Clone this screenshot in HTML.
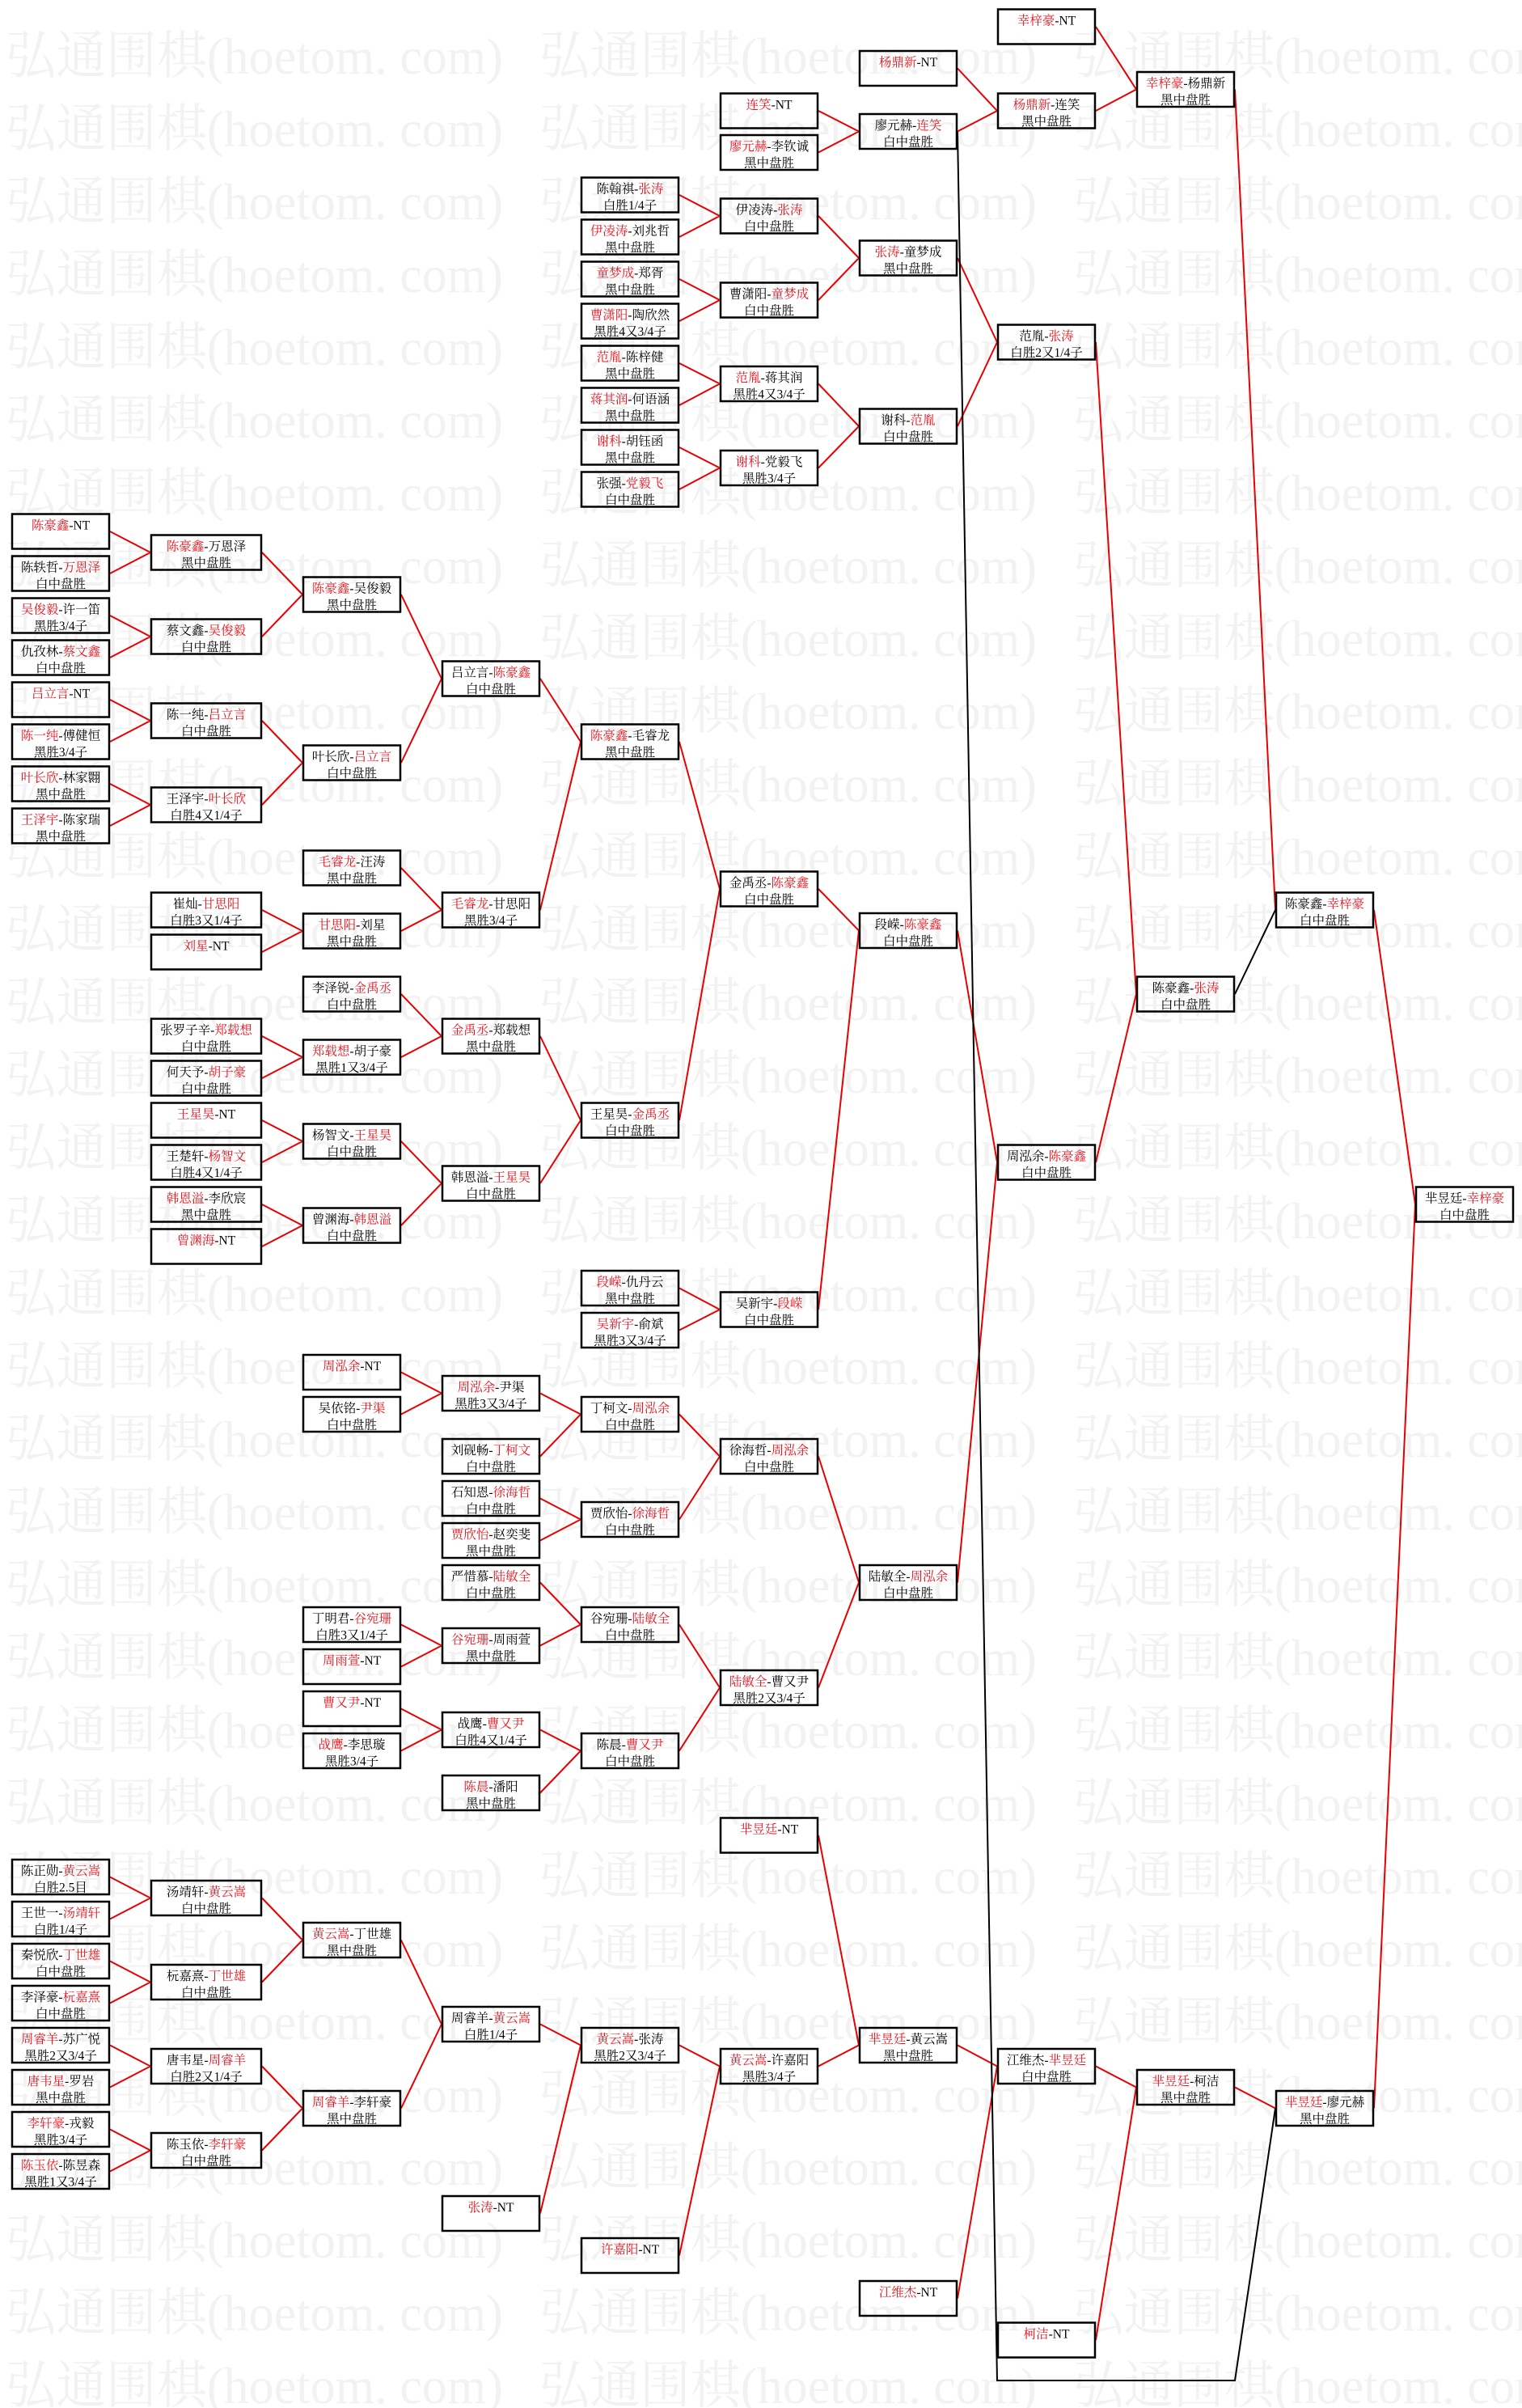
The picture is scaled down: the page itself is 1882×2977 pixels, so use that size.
<!DOCTYPE html>
<html><head><meta charset="utf-8"><style>
html,body{margin:0;padding:0;background:#fff;width:1882px;height:2977px;overflow:hidden}
svg{display:block}
svg text{font-family:"Liberation Serif","Noto Serif CJK SC",serif;font-size:15.5px;text-anchor:middle;fill:#000}
.wm text{font-size:64px;fill:#f2f2f2;text-anchor:start}
.bx rect{fill:none;stroke:#000;stroke-width:2.5}
.r{fill:#e8121c}
.ln{fill:none;stroke:#e80000;stroke-width:2}
.lk{fill:none;stroke:#000;stroke-width:2}
</style></head><body>
<svg width="1882" height="2977" viewBox="0 0 1882 2977" xmlns="http://www.w3.org/2000/svg">
<g class="wm">
<text x="7" y="91" textLength="615" lengthAdjust="spacingAndGlyphs">弘通围棋(hoetom. com)</text><text x="667" y="91" textLength="615" lengthAdjust="spacingAndGlyphs">弘通围棋(hoetom. com)</text><text x="1327" y="91" textLength="615" lengthAdjust="spacingAndGlyphs">弘通围棋(hoetom. com)</text>
<text x="7" y="181" textLength="615" lengthAdjust="spacingAndGlyphs">弘通围棋(hoetom. com)</text><text x="667" y="181" textLength="615" lengthAdjust="spacingAndGlyphs">弘通围棋(hoetom. com)</text><text x="1327" y="181" textLength="615" lengthAdjust="spacingAndGlyphs">弘通围棋(hoetom. com)</text>
<text x="7" y="271" textLength="615" lengthAdjust="spacingAndGlyphs">弘通围棋(hoetom. com)</text><text x="667" y="271" textLength="615" lengthAdjust="spacingAndGlyphs">弘通围棋(hoetom. com)</text><text x="1327" y="271" textLength="615" lengthAdjust="spacingAndGlyphs">弘通围棋(hoetom. com)</text>
<text x="7" y="361" textLength="615" lengthAdjust="spacingAndGlyphs">弘通围棋(hoetom. com)</text><text x="667" y="361" textLength="615" lengthAdjust="spacingAndGlyphs">弘通围棋(hoetom. com)</text><text x="1327" y="361" textLength="615" lengthAdjust="spacingAndGlyphs">弘通围棋(hoetom. com)</text>
<text x="7" y="451" textLength="615" lengthAdjust="spacingAndGlyphs">弘通围棋(hoetom. com)</text><text x="667" y="451" textLength="615" lengthAdjust="spacingAndGlyphs">弘通围棋(hoetom. com)</text><text x="1327" y="451" textLength="615" lengthAdjust="spacingAndGlyphs">弘通围棋(hoetom. com)</text>
<text x="7" y="541" textLength="615" lengthAdjust="spacingAndGlyphs">弘通围棋(hoetom. com)</text><text x="667" y="541" textLength="615" lengthAdjust="spacingAndGlyphs">弘通围棋(hoetom. com)</text><text x="1327" y="541" textLength="615" lengthAdjust="spacingAndGlyphs">弘通围棋(hoetom. com)</text>
<text x="7" y="631" textLength="615" lengthAdjust="spacingAndGlyphs">弘通围棋(hoetom. com)</text><text x="667" y="631" textLength="615" lengthAdjust="spacingAndGlyphs">弘通围棋(hoetom. com)</text><text x="1327" y="631" textLength="615" lengthAdjust="spacingAndGlyphs">弘通围棋(hoetom. com)</text>
<text x="7" y="721" textLength="615" lengthAdjust="spacingAndGlyphs">弘通围棋(hoetom. com)</text><text x="667" y="721" textLength="615" lengthAdjust="spacingAndGlyphs">弘通围棋(hoetom. com)</text><text x="1327" y="721" textLength="615" lengthAdjust="spacingAndGlyphs">弘通围棋(hoetom. com)</text>
<text x="7" y="811" textLength="615" lengthAdjust="spacingAndGlyphs">弘通围棋(hoetom. com)</text><text x="667" y="811" textLength="615" lengthAdjust="spacingAndGlyphs">弘通围棋(hoetom. com)</text><text x="1327" y="811" textLength="615" lengthAdjust="spacingAndGlyphs">弘通围棋(hoetom. com)</text>
<text x="7" y="901" textLength="615" lengthAdjust="spacingAndGlyphs">弘通围棋(hoetom. com)</text><text x="667" y="901" textLength="615" lengthAdjust="spacingAndGlyphs">弘通围棋(hoetom. com)</text><text x="1327" y="901" textLength="615" lengthAdjust="spacingAndGlyphs">弘通围棋(hoetom. com)</text>
<text x="7" y="991" textLength="615" lengthAdjust="spacingAndGlyphs">弘通围棋(hoetom. com)</text><text x="667" y="991" textLength="615" lengthAdjust="spacingAndGlyphs">弘通围棋(hoetom. com)</text><text x="1327" y="991" textLength="615" lengthAdjust="spacingAndGlyphs">弘通围棋(hoetom. com)</text>
<text x="7" y="1081" textLength="615" lengthAdjust="spacingAndGlyphs">弘通围棋(hoetom. com)</text><text x="667" y="1081" textLength="615" lengthAdjust="spacingAndGlyphs">弘通围棋(hoetom. com)</text><text x="1327" y="1081" textLength="615" lengthAdjust="spacingAndGlyphs">弘通围棋(hoetom. com)</text>
<text x="7" y="1171" textLength="615" lengthAdjust="spacingAndGlyphs">弘通围棋(hoetom. com)</text><text x="667" y="1171" textLength="615" lengthAdjust="spacingAndGlyphs">弘通围棋(hoetom. com)</text><text x="1327" y="1171" textLength="615" lengthAdjust="spacingAndGlyphs">弘通围棋(hoetom. com)</text>
<text x="7" y="1261" textLength="615" lengthAdjust="spacingAndGlyphs">弘通围棋(hoetom. com)</text><text x="667" y="1261" textLength="615" lengthAdjust="spacingAndGlyphs">弘通围棋(hoetom. com)</text><text x="1327" y="1261" textLength="615" lengthAdjust="spacingAndGlyphs">弘通围棋(hoetom. com)</text>
<text x="7" y="1351" textLength="615" lengthAdjust="spacingAndGlyphs">弘通围棋(hoetom. com)</text><text x="667" y="1351" textLength="615" lengthAdjust="spacingAndGlyphs">弘通围棋(hoetom. com)</text><text x="1327" y="1351" textLength="615" lengthAdjust="spacingAndGlyphs">弘通围棋(hoetom. com)</text>
<text x="7" y="1441" textLength="615" lengthAdjust="spacingAndGlyphs">弘通围棋(hoetom. com)</text><text x="667" y="1441" textLength="615" lengthAdjust="spacingAndGlyphs">弘通围棋(hoetom. com)</text><text x="1327" y="1441" textLength="615" lengthAdjust="spacingAndGlyphs">弘通围棋(hoetom. com)</text>
<text x="7" y="1531" textLength="615" lengthAdjust="spacingAndGlyphs">弘通围棋(hoetom. com)</text><text x="667" y="1531" textLength="615" lengthAdjust="spacingAndGlyphs">弘通围棋(hoetom. com)</text><text x="1327" y="1531" textLength="615" lengthAdjust="spacingAndGlyphs">弘通围棋(hoetom. com)</text>
<text x="7" y="1621" textLength="615" lengthAdjust="spacingAndGlyphs">弘通围棋(hoetom. com)</text><text x="667" y="1621" textLength="615" lengthAdjust="spacingAndGlyphs">弘通围棋(hoetom. com)</text><text x="1327" y="1621" textLength="615" lengthAdjust="spacingAndGlyphs">弘通围棋(hoetom. com)</text>
<text x="7" y="1711" textLength="615" lengthAdjust="spacingAndGlyphs">弘通围棋(hoetom. com)</text><text x="667" y="1711" textLength="615" lengthAdjust="spacingAndGlyphs">弘通围棋(hoetom. com)</text><text x="1327" y="1711" textLength="615" lengthAdjust="spacingAndGlyphs">弘通围棋(hoetom. com)</text>
<text x="7" y="1801" textLength="615" lengthAdjust="spacingAndGlyphs">弘通围棋(hoetom. com)</text><text x="667" y="1801" textLength="615" lengthAdjust="spacingAndGlyphs">弘通围棋(hoetom. com)</text><text x="1327" y="1801" textLength="615" lengthAdjust="spacingAndGlyphs">弘通围棋(hoetom. com)</text>
<text x="7" y="1891" textLength="615" lengthAdjust="spacingAndGlyphs">弘通围棋(hoetom. com)</text><text x="667" y="1891" textLength="615" lengthAdjust="spacingAndGlyphs">弘通围棋(hoetom. com)</text><text x="1327" y="1891" textLength="615" lengthAdjust="spacingAndGlyphs">弘通围棋(hoetom. com)</text>
<text x="7" y="1981" textLength="615" lengthAdjust="spacingAndGlyphs">弘通围棋(hoetom. com)</text><text x="667" y="1981" textLength="615" lengthAdjust="spacingAndGlyphs">弘通围棋(hoetom. com)</text><text x="1327" y="1981" textLength="615" lengthAdjust="spacingAndGlyphs">弘通围棋(hoetom. com)</text>
<text x="7" y="2071" textLength="615" lengthAdjust="spacingAndGlyphs">弘通围棋(hoetom. com)</text><text x="667" y="2071" textLength="615" lengthAdjust="spacingAndGlyphs">弘通围棋(hoetom. com)</text><text x="1327" y="2071" textLength="615" lengthAdjust="spacingAndGlyphs">弘通围棋(hoetom. com)</text>
<text x="7" y="2161" textLength="615" lengthAdjust="spacingAndGlyphs">弘通围棋(hoetom. com)</text><text x="667" y="2161" textLength="615" lengthAdjust="spacingAndGlyphs">弘通围棋(hoetom. com)</text><text x="1327" y="2161" textLength="615" lengthAdjust="spacingAndGlyphs">弘通围棋(hoetom. com)</text>
<text x="7" y="2251" textLength="615" lengthAdjust="spacingAndGlyphs">弘通围棋(hoetom. com)</text><text x="667" y="2251" textLength="615" lengthAdjust="spacingAndGlyphs">弘通围棋(hoetom. com)</text><text x="1327" y="2251" textLength="615" lengthAdjust="spacingAndGlyphs">弘通围棋(hoetom. com)</text>
<text x="7" y="2341" textLength="615" lengthAdjust="spacingAndGlyphs">弘通围棋(hoetom. com)</text><text x="667" y="2341" textLength="615" lengthAdjust="spacingAndGlyphs">弘通围棋(hoetom. com)</text><text x="1327" y="2341" textLength="615" lengthAdjust="spacingAndGlyphs">弘通围棋(hoetom. com)</text>
<text x="7" y="2431" textLength="615" lengthAdjust="spacingAndGlyphs">弘通围棋(hoetom. com)</text><text x="667" y="2431" textLength="615" lengthAdjust="spacingAndGlyphs">弘通围棋(hoetom. com)</text><text x="1327" y="2431" textLength="615" lengthAdjust="spacingAndGlyphs">弘通围棋(hoetom. com)</text>
<text x="7" y="2521" textLength="615" lengthAdjust="spacingAndGlyphs">弘通围棋(hoetom. com)</text><text x="667" y="2521" textLength="615" lengthAdjust="spacingAndGlyphs">弘通围棋(hoetom. com)</text><text x="1327" y="2521" textLength="615" lengthAdjust="spacingAndGlyphs">弘通围棋(hoetom. com)</text>
<text x="7" y="2611" textLength="615" lengthAdjust="spacingAndGlyphs">弘通围棋(hoetom. com)</text><text x="667" y="2611" textLength="615" lengthAdjust="spacingAndGlyphs">弘通围棋(hoetom. com)</text><text x="1327" y="2611" textLength="615" lengthAdjust="spacingAndGlyphs">弘通围棋(hoetom. com)</text>
<text x="7" y="2701" textLength="615" lengthAdjust="spacingAndGlyphs">弘通围棋(hoetom. com)</text><text x="667" y="2701" textLength="615" lengthAdjust="spacingAndGlyphs">弘通围棋(hoetom. com)</text><text x="1327" y="2701" textLength="615" lengthAdjust="spacingAndGlyphs">弘通围棋(hoetom. com)</text>
<text x="7" y="2791" textLength="615" lengthAdjust="spacingAndGlyphs">弘通围棋(hoetom. com)</text><text x="667" y="2791" textLength="615" lengthAdjust="spacingAndGlyphs">弘通围棋(hoetom. com)</text><text x="1327" y="2791" textLength="615" lengthAdjust="spacingAndGlyphs">弘通围棋(hoetom. com)</text>
<text x="7" y="2881" textLength="615" lengthAdjust="spacingAndGlyphs">弘通围棋(hoetom. com)</text><text x="667" y="2881" textLength="615" lengthAdjust="spacingAndGlyphs">弘通围棋(hoetom. com)</text><text x="1327" y="2881" textLength="615" lengthAdjust="spacingAndGlyphs">弘通围棋(hoetom. com)</text>
<text x="7" y="2971" textLength="615" lengthAdjust="spacingAndGlyphs">弘通围棋(hoetom. com)</text><text x="667" y="2971" textLength="615" lengthAdjust="spacingAndGlyphs">弘通围棋(hoetom. com)</text><text x="1327" y="2971" textLength="615" lengthAdjust="spacingAndGlyphs">弘通围棋(hoetom. com)</text>
</g>

<path class="ln" d="M1355 33L1405 110.5M1355 137L1405 110.5M1184 84.5L1233 137M1184 162.5L1233 137M1012 137L1062 162.5M1012 188.5L1062 162.5
M840 241L890 267M840 293L890 267M840 345L890 371M840 397L890 371M840 449L890 474.5M840 501L890 474.5M840 553L890 578.5M840 605L890 578.5
M1012 267L1062 319M1012 371L1062 319M1012 474.5L1062 527M1012 578.5L1062 527M1184 319L1233 423M1184 527L1233 423M1355 423L1405 1229
M1527 110.5L1577 1125M1699 1125L1750 1489M1699 2606.5L1750 1489
M136 657L186 683M136 709L186 683M136 761L186 787M136 813L186 787M136 865L186 891M136 917L186 891M136 969L186 995M136 1021L186 995
M324 683L374 735M324 787L374 735M324 891L374 943M324 995L374 943M496 735L546 839M496 943L546 839M668 839L718 917M668 1125L718 917
M496 1073L546 1125M496 1151L546 1125M324 1125L374 1151M324 1177L374 1151
M496 1229L546 1281M496 1307L546 1281M324 1281L374 1307M324 1333L374 1307
M324 1385L374 1411M324 1437L374 1411M324 1489L374 1515M324 1541L374 1515M496 1411L546 1463M496 1515L546 1463M668 1281L718 1385M668 1463L718 1385
M840 917L890 1099M840 1385L890 1099M1012 1099L1062 1150.5M1012 1619L1062 1150.5M840 1592.5L890 1619M840 1644.5L890 1619
M1184 1150.5L1233 1437M1184 1956.5L1233 1437M1355 1437L1405 1229
M496 1696.5L546 1722.5M496 1748.5L546 1722.5M668 1722.5L718 1748.5M668 1800.5L718 1748.5M668 1852.5L718 1878.5M668 1904.5L718 1878.5M840 1748.5L890 1800.5M840 1878.5L890 1800.5
M496 2008.5L546 2034.5M496 2060.5L546 2034.5M668 1956.5L718 2008.5M668 2034.5L718 2008.5M496 2112.5L546 2138.5M496 2164.5L546 2138.5M668 2138.5L718 2164.5M668 2216.5L718 2164.5
M840 2008.5L890 2086.5M840 2164.5L890 2086.5M1012 1800.5L1062 1956.5M1012 2086.5L1062 1956.5
M136 2320.5L186 2346.5M136 2372.5L186 2346.5M136 2424.5L186 2450.5M136 2476.5L186 2450.5M136 2528.5L186 2554.5M136 2580.5L186 2554.5M136 2632.5L186 2658.5M136 2684.5L186 2658.5
M324 2346.5L374 2398.5M324 2450.5L374 2398.5M324 2554.5L374 2606.5M324 2658.5L374 2606.5M496 2398.5L546 2502.5M496 2606.5L546 2502.5
M668 2502.5L718 2528.5M668 2736.5L718 2528.5M840 2528.5L890 2554.5M840 2788.5L890 2554.5M1012 2554.5L1062 2528.5M1012 2269L1062 2528.5
M1184 2528.5L1233 2554.5M1184 2841.5L1233 2554.5M1355 2554.5L1405 2580.5M1355 2893L1405 2580.5M1527 2580.5L1577 2606.5"/>
<path class="lk" d="M1527 1229L1577 1125M1184 163L1233 2943L1527 2943L1577 2606.5"/>

<g class="bx">
<g transform="translate(1233,10.5)"><rect x="1" y="1" width="120" height="43"/><text x="61" y="20"><tspan class="r">幸梓豪</tspan>-NT</text></g>
<g transform="translate(1062,62)"><rect x="1" y="1" width="120" height="43"/><text x="61" y="20"><tspan class="r">杨鼎新</tspan>-NT</text></g>
<g transform="translate(890,114.5)"><rect x="1" y="1" width="120" height="43"/><text x="61" y="20"><tspan class="r">连笑</tspan>-NT</text></g>
<g transform="translate(890,166)"><rect x="1" y="1" width="120" height="43"/><text x="61" y="20"><tspan class="r">廖元赫</tspan>-李钦诚</text><text x="61" y="40.5">黑中盘胜</text></g>
<g transform="translate(1062,140)"><rect x="1" y="1" width="120" height="43"/><text x="61" y="20">廖元赫-<tspan class="r">连笑</tspan></text><text x="61" y="40.5">白中盘胜</text></g>
<g transform="translate(1233,114.5)"><rect x="1" y="1" width="120" height="43"/><text x="61" y="20"><tspan class="r">杨鼎新</tspan>-连笑</text><text x="61" y="40.5">黑中盘胜</text></g>
<g transform="translate(1405,88)"><rect x="1" y="1" width="120" height="43"/><text x="61" y="20"><tspan class="r">幸梓豪</tspan>-杨鼎新</text><text x="61" y="40.5">黑中盘胜</text></g>
<g transform="translate(718,218.5)"><rect x="1" y="1" width="120" height="43"/><text x="61" y="20">陈翰祺-<tspan class="r">张涛</tspan></text><text x="61" y="40.5">白胜1/4子</text></g>
<g transform="translate(718,270.5)"><rect x="1" y="1" width="120" height="43"/><text x="61" y="20"><tspan class="r">伊凌涛</tspan>-刘兆哲</text><text x="61" y="40.5">黑中盘胜</text></g>
<g transform="translate(718,322.5)"><rect x="1" y="1" width="120" height="43"/><text x="61" y="20"><tspan class="r">童梦成</tspan>-郑胥</text><text x="61" y="40.5">黑中盘胜</text></g>
<g transform="translate(718,374.5)"><rect x="1" y="1" width="120" height="43"/><text x="61" y="20"><tspan class="r">曹潇阳</tspan>-陶欣然</text><text x="61" y="40.5">黑胜4又3/4子</text></g>
<g transform="translate(718,426.5)"><rect x="1" y="1" width="120" height="43"/><text x="61" y="20"><tspan class="r">范胤</tspan>-陈梓健</text><text x="61" y="40.5">黑中盘胜</text></g>
<g transform="translate(718,478.5)"><rect x="1" y="1" width="120" height="43"/><text x="61" y="20"><tspan class="r">蒋其润</tspan>-何语涵</text><text x="61" y="40.5">黑中盘胜</text></g>
<g transform="translate(718,530.5)"><rect x="1" y="1" width="120" height="43"/><text x="61" y="20"><tspan class="r">谢科</tspan>-胡钰函</text><text x="61" y="40.5">黑中盘胜</text></g>
<g transform="translate(718,582.5)"><rect x="1" y="1" width="120" height="43"/><text x="61" y="20">张强-<tspan class="r">党毅飞</tspan></text><text x="61" y="40.5">白中盘胜</text></g>
<g transform="translate(890,244.5)"><rect x="1" y="1" width="120" height="43"/><text x="61" y="20">伊凌涛-<tspan class="r">张涛</tspan></text><text x="61" y="40.5">白中盘胜</text></g>
<g transform="translate(890,348.5)"><rect x="1" y="1" width="120" height="43"/><text x="61" y="20">曹潇阳-<tspan class="r">童梦成</tspan></text><text x="61" y="40.5">白中盘胜</text></g>
<g transform="translate(890,452)"><rect x="1" y="1" width="120" height="43"/><text x="61" y="20"><tspan class="r">范胤</tspan>-蒋其润</text><text x="61" y="40.5">黑胜4又3/4子</text></g>
<g transform="translate(890,556)"><rect x="1" y="1" width="120" height="43"/><text x="61" y="20"><tspan class="r">谢科</tspan>-党毅飞</text><text x="61" y="40.5">黑胜3/4子</text></g>
<g transform="translate(1062,296.5)"><rect x="1" y="1" width="120" height="43"/><text x="61" y="20"><tspan class="r">张涛</tspan>-童梦成</text><text x="61" y="40.5">黑中盘胜</text></g>
<g transform="translate(1062,504.5)"><rect x="1" y="1" width="120" height="43"/><text x="61" y="20">谢科-<tspan class="r">范胤</tspan></text><text x="61" y="40.5">白中盘胜</text></g>
<g transform="translate(1233,400.5)"><rect x="1" y="1" width="120" height="43"/><text x="61" y="20">范胤-<tspan class="r">张涛</tspan></text><text x="61" y="40.5">白胜2又1/4子</text></g>

<g transform="translate(14,634.5)"><rect x="1" y="1" width="120" height="43"/><text x="61" y="20"><tspan class="r">陈豪鑫</tspan>-NT</text></g>
<g transform="translate(14,686.5)"><rect x="1" y="1" width="120" height="43"/><text x="61" y="20">陈轶哲-<tspan class="r">万恩泽</tspan></text><text x="61" y="40.5">白中盘胜</text></g>
<g transform="translate(14,738.5)"><rect x="1" y="1" width="120" height="43"/><text x="61" y="20"><tspan class="r">吴俊毅</tspan>-许一笛</text><text x="61" y="40.5">黑胜3/4子</text></g>
<g transform="translate(14,790.5)"><rect x="1" y="1" width="120" height="43"/><text x="61" y="20">仇孜林-<tspan class="r">蔡文鑫</tspan></text><text x="61" y="40.5">白中盘胜</text></g>
<g transform="translate(14,842.5)"><rect x="1" y="1" width="120" height="43"/><text x="61" y="20"><tspan class="r">吕立言</tspan>-NT</text></g>
<g transform="translate(14,894.5)"><rect x="1" y="1" width="120" height="43"/><text x="61" y="20"><tspan class="r">陈一纯</tspan>-傅健恒</text><text x="61" y="40.5">黑胜3/4子</text></g>
<g transform="translate(14,946.5)"><rect x="1" y="1" width="120" height="43"/><text x="61" y="20"><tspan class="r">叶长欣</tspan>-林家翾</text><text x="61" y="40.5">黑中盘胜</text></g>
<g transform="translate(14,998.5)"><rect x="1" y="1" width="120" height="43"/><text x="61" y="20"><tspan class="r">王泽宇</tspan>-陈家瑞</text><text x="61" y="40.5">黑中盘胜</text></g>
<g transform="translate(186,660.5)"><rect x="1" y="1" width="136" height="43"/><text x="69" y="20"><tspan class="r">陈豪鑫</tspan>-万恩泽</text><text x="69" y="40.5">黑中盘胜</text></g>
<g transform="translate(186,764.5)"><rect x="1" y="1" width="136" height="43"/><text x="69" y="20">蔡文鑫-<tspan class="r">吴俊毅</tspan></text><text x="69" y="40.5">白中盘胜</text></g>
<g transform="translate(186,868.5)"><rect x="1" y="1" width="136" height="43"/><text x="69" y="20">陈一纯-<tspan class="r">吕立言</tspan></text><text x="69" y="40.5">白中盘胜</text></g>
<g transform="translate(186,972.5)"><rect x="1" y="1" width="136" height="43"/><text x="69" y="20">王泽宇-<tspan class="r">叶长欣</tspan></text><text x="69" y="40.5">白胜4又1/4子</text></g>
<g transform="translate(374,712.5)"><rect x="1" y="1" width="120" height="43"/><text x="61" y="20"><tspan class="r">陈豪鑫</tspan>-吴俊毅</text><text x="61" y="40.5">黑中盘胜</text></g>
<g transform="translate(374,920.5)"><rect x="1" y="1" width="120" height="43"/><text x="61" y="20">叶长欣-<tspan class="r">吕立言</tspan></text><text x="61" y="40.5">白中盘胜</text></g>
<g transform="translate(546,816.5)"><rect x="1" y="1" width="120" height="43"/><text x="61" y="20">吕立言-<tspan class="r">陈豪鑫</tspan></text><text x="61" y="40.5">白中盘胜</text></g>
<g transform="translate(374,1050.5)"><rect x="1" y="1" width="120" height="43"/><text x="61" y="20"><tspan class="r">毛睿龙</tspan>-汪涛</text><text x="61" y="40.5">黑中盘胜</text></g>
<g transform="translate(186,1102.5)"><rect x="1" y="1" width="136" height="43"/><text x="69" y="20">崔灿-<tspan class="r">甘思阳</tspan></text><text x="69" y="40.5">白胜3又1/4子</text></g>
<g transform="translate(186,1154.5)"><rect x="1" y="1" width="136" height="43"/><text x="69" y="20"><tspan class="r">刘星</tspan>-NT</text></g>
<g transform="translate(374,1128.5)"><rect x="1" y="1" width="120" height="43"/><text x="61" y="20"><tspan class="r">甘思阳</tspan>-刘星</text><text x="61" y="40.5">黑中盘胜</text></g>
<g transform="translate(546,1102.5)"><rect x="1" y="1" width="120" height="43"/><text x="61" y="20"><tspan class="r">毛睿龙</tspan>-甘思阳</text><text x="61" y="40.5">黑胜3/4子</text></g>
<g transform="translate(718,894.5)"><rect x="1" y="1" width="120" height="43"/><text x="61" y="20"><tspan class="r">陈豪鑫</tspan>-毛睿龙</text><text x="61" y="40.5">黑中盘胜</text></g>
<g transform="translate(374,1206.5)"><rect x="1" y="1" width="120" height="43"/><text x="61" y="20">李泽锐-<tspan class="r">金禹丞</tspan></text><text x="61" y="40.5">白中盘胜</text></g>
<g transform="translate(186,1258.5)"><rect x="1" y="1" width="136" height="43"/><text x="69" y="20">张罗子辛-<tspan class="r">郑载想</tspan></text><text x="69" y="40.5">白中盘胜</text></g>
<g transform="translate(186,1310.5)"><rect x="1" y="1" width="136" height="43"/><text x="69" y="20">何天予-<tspan class="r">胡子豪</tspan></text><text x="69" y="40.5">白中盘胜</text></g>
<g transform="translate(374,1284.5)"><rect x="1" y="1" width="120" height="43"/><text x="61" y="20"><tspan class="r">郑载想</tspan>-胡子豪</text><text x="61" y="40.5">黑胜1又3/4子</text></g>
<g transform="translate(546,1258.5)"><rect x="1" y="1" width="120" height="43"/><text x="61" y="20"><tspan class="r">金禹丞</tspan>-郑载想</text><text x="61" y="40.5">黑中盘胜</text></g>
<g transform="translate(186,1362.5)"><rect x="1" y="1" width="136" height="43"/><text x="69" y="20"><tspan class="r">王星昊</tspan>-NT</text></g>
<g transform="translate(186,1414.5)"><rect x="1" y="1" width="136" height="43"/><text x="69" y="20">王楚轩-<tspan class="r">杨智文</tspan></text><text x="69" y="40.5">白胜4又1/4子</text></g>
<g transform="translate(186,1466.5)"><rect x="1" y="1" width="136" height="43"/><text x="69" y="20"><tspan class="r">韩恩溢</tspan>-李欣宸</text><text x="69" y="40.5">黑中盘胜</text></g>
<g transform="translate(186,1518.5)"><rect x="1" y="1" width="136" height="43"/><text x="69" y="20"><tspan class="r">曾渊海</tspan>-NT</text></g>
<g transform="translate(374,1388.5)"><rect x="1" y="1" width="120" height="43"/><text x="61" y="20">杨智文-<tspan class="r">王星昊</tspan></text><text x="61" y="40.5">白中盘胜</text></g>
<g transform="translate(374,1492.5)"><rect x="1" y="1" width="120" height="43"/><text x="61" y="20">曾渊海-<tspan class="r">韩恩溢</tspan></text><text x="61" y="40.5">白中盘胜</text></g>
<g transform="translate(546,1440.5)"><rect x="1" y="1" width="120" height="43"/><text x="61" y="20">韩恩溢-<tspan class="r">王星昊</tspan></text><text x="61" y="40.5">白中盘胜</text></g>
<g transform="translate(718,1362.5)"><rect x="1" y="1" width="120" height="43"/><text x="61" y="20">王星昊-<tspan class="r">金禹丞</tspan></text><text x="61" y="40.5">白中盘胜</text></g>
<g transform="translate(890,1076.5)"><rect x="1" y="1" width="120" height="43"/><text x="61" y="20">金禹丞-<tspan class="r">陈豪鑫</tspan></text><text x="61" y="40.5">白中盘胜</text></g>

<g transform="translate(718,1570)"><rect x="1" y="1" width="120" height="43"/><text x="61" y="20"><tspan class="r">段嵘</tspan>-仇丹云</text><text x="61" y="40.5">黑中盘胜</text></g>
<g transform="translate(718,1622)"><rect x="1" y="1" width="120" height="43"/><text x="61" y="20"><tspan class="r">吴新宇</tspan>-俞斌</text><text x="61" y="40.5">黑胜3又3/4子</text></g>
<g transform="translate(890,1596.5)"><rect x="1" y="1" width="120" height="43"/><text x="61" y="20">吴新宇-<tspan class="r">段嵘</tspan></text><text x="61" y="40.5">白中盘胜</text></g>
<g transform="translate(1062,1128)"><rect x="1" y="1" width="120" height="43"/><text x="61" y="20">段嵘-<tspan class="r">陈豪鑫</tspan></text><text x="61" y="40.5">白中盘胜</text></g>

<g transform="translate(374,1674)"><rect x="1" y="1" width="120" height="43"/><text x="61" y="20"><tspan class="r">周泓余</tspan>-NT</text></g>
<g transform="translate(374,1726)"><rect x="1" y="1" width="120" height="43"/><text x="61" y="20">吴依铭-<tspan class="r">尹渠</tspan></text><text x="61" y="40.5">白中盘胜</text></g>
<g transform="translate(546,1700)"><rect x="1" y="1" width="120" height="43"/><text x="61" y="20"><tspan class="r">周泓余</tspan>-尹渠</text><text x="61" y="40.5">黑胜3又3/4子</text></g>
<g transform="translate(546,1778)"><rect x="1" y="1" width="120" height="43"/><text x="61" y="20">刘砚畅-<tspan class="r">丁柯文</tspan></text><text x="61" y="40.5">白中盘胜</text></g>
<g transform="translate(718,1726)"><rect x="1" y="1" width="120" height="43"/><text x="61" y="20">丁柯文-<tspan class="r">周泓余</tspan></text><text x="61" y="40.5">白中盘胜</text></g>
<g transform="translate(546,1830)"><rect x="1" y="1" width="120" height="43"/><text x="61" y="20">石知恩-<tspan class="r">徐海哲</tspan></text><text x="61" y="40.5">白中盘胜</text></g>
<g transform="translate(546,1882)"><rect x="1" y="1" width="120" height="43"/><text x="61" y="20"><tspan class="r">贾欣怡</tspan>-赵奕斐</text><text x="61" y="40.5">黑中盘胜</text></g>
<g transform="translate(718,1856)"><rect x="1" y="1" width="120" height="43"/><text x="61" y="20">贾欣怡-<tspan class="r">徐海哲</tspan></text><text x="61" y="40.5">白中盘胜</text></g>
<g transform="translate(890,1778)"><rect x="1" y="1" width="120" height="43"/><text x="61" y="20">徐海哲-<tspan class="r">周泓余</tspan></text><text x="61" y="40.5">白中盘胜</text></g>
<g transform="translate(546,1934)"><rect x="1" y="1" width="120" height="43"/><text x="61" y="20">严惜慕-<tspan class="r">陆敏全</tspan></text><text x="61" y="40.5">白中盘胜</text></g>
<g transform="translate(374,1986)"><rect x="1" y="1" width="120" height="43"/><text x="61" y="20">丁明君-<tspan class="r">谷宛珊</tspan></text><text x="61" y="40.5">白胜3又1/4子</text></g>
<g transform="translate(374,2038)"><rect x="1" y="1" width="120" height="43"/><text x="61" y="20"><tspan class="r">周雨萱</tspan>-NT</text></g>
<g transform="translate(546,2012)"><rect x="1" y="1" width="120" height="43"/><text x="61" y="20"><tspan class="r">谷宛珊</tspan>-周雨萱</text><text x="61" y="40.5">黑中盘胜</text></g>
<g transform="translate(718,1986)"><rect x="1" y="1" width="120" height="43"/><text x="61" y="20">谷宛珊-<tspan class="r">陆敏全</tspan></text><text x="61" y="40.5">白中盘胜</text></g>
<g transform="translate(374,2090)"><rect x="1" y="1" width="120" height="43"/><text x="61" y="20"><tspan class="r">曹又尹</tspan>-NT</text></g>
<g transform="translate(374,2142)"><rect x="1" y="1" width="120" height="43"/><text x="61" y="20"><tspan class="r">战鹰</tspan>-李思璇</text><text x="61" y="40.5">黑胜3/4子</text></g>
<g transform="translate(546,2116)"><rect x="1" y="1" width="120" height="43"/><text x="61" y="20">战鹰-<tspan class="r">曹又尹</tspan></text><text x="61" y="40.5">白胜4又1/4子</text></g>
<g transform="translate(546,2194)"><rect x="1" y="1" width="120" height="43"/><text x="61" y="20"><tspan class="r">陈晨</tspan>-潘阳</text><text x="61" y="40.5">黑中盘胜</text></g>
<g transform="translate(718,2142)"><rect x="1" y="1" width="120" height="43"/><text x="61" y="20">陈晨-<tspan class="r">曹又尹</tspan></text><text x="61" y="40.5">白中盘胜</text></g>
<g transform="translate(890,2064)"><rect x="1" y="1" width="120" height="43"/><text x="61" y="20"><tspan class="r">陆敏全</tspan>-曹又尹</text><text x="61" y="40.5">黑胜2又3/4子</text></g>
<g transform="translate(1062,1934)"><rect x="1" y="1" width="120" height="43"/><text x="61" y="20">陆敏全-<tspan class="r">周泓余</tspan></text><text x="61" y="40.5">白中盘胜</text></g>
<g transform="translate(1233,1414.5)"><rect x="1" y="1" width="120" height="43"/><text x="61" y="20">周泓余-<tspan class="r">陈豪鑫</tspan></text><text x="61" y="40.5">白中盘胜</text></g>
<g transform="translate(1405,1206.5)"><rect x="1" y="1" width="120" height="43"/><text x="61" y="20">陈豪鑫-<tspan class="r">张涛</tspan></text><text x="61" y="40.5">白中盘胜</text></g>
<g transform="translate(1577,1102.5)"><rect x="1" y="1" width="120" height="43"/><text x="61" y="20">陈豪鑫-<tspan class="r">幸梓豪</tspan></text><text x="61" y="40.5">白中盘胜</text></g>
<g transform="translate(1750,1466.5)"><rect x="1" y="1" width="120" height="43"/><text x="61" y="20">芈昱廷-<tspan class="r">幸梓豪</tspan></text><text x="61" y="40.5">白中盘胜</text></g>

<g transform="translate(14,2298)"><rect x="1" y="1" width="120" height="43"/><text x="61" y="20">陈正勋-<tspan class="r">黄云嵩</tspan></text><text x="61" y="40.5">白胜2.5目</text></g>
<g transform="translate(14,2350)"><rect x="1" y="1" width="120" height="43"/><text x="61" y="20">王世一-<tspan class="r">汤靖轩</tspan></text><text x="61" y="40.5">白胜1/4子</text></g>
<g transform="translate(14,2402)"><rect x="1" y="1" width="120" height="43"/><text x="61" y="20">秦悦欣-<tspan class="r">丁世雄</tspan></text><text x="61" y="40.5">白中盘胜</text></g>
<g transform="translate(14,2454)"><rect x="1" y="1" width="120" height="43"/><text x="61" y="20">李泽豪-<tspan class="r">杬嘉熹</tspan></text><text x="61" y="40.5">白中盘胜</text></g>
<g transform="translate(14,2506)"><rect x="1" y="1" width="120" height="43"/><text x="61" y="20"><tspan class="r">周睿羊</tspan>-苏广悦</text><text x="61" y="40.5">黑胜2又3/4子</text></g>
<g transform="translate(14,2558)"><rect x="1" y="1" width="120" height="43"/><text x="61" y="20"><tspan class="r">唐韦星</tspan>-罗岩</text><text x="61" y="40.5">黑中盘胜</text></g>
<g transform="translate(14,2610)"><rect x="1" y="1" width="120" height="43"/><text x="61" y="20"><tspan class="r">李轩豪</tspan>-戎毅</text><text x="61" y="40.5">黑胜3/4子</text></g>
<g transform="translate(14,2662)"><rect x="1" y="1" width="120" height="43"/><text x="61" y="20"><tspan class="r">陈玉依</tspan>-陈昱森</text><text x="61" y="40.5">黑胜1又3/4子</text></g>
<g transform="translate(186,2324)"><rect x="1" y="1" width="136" height="43"/><text x="69" y="20">汤靖轩-<tspan class="r">黄云嵩</tspan></text><text x="69" y="40.5">白中盘胜</text></g>
<g transform="translate(186,2428)"><rect x="1" y="1" width="136" height="43"/><text x="69" y="20">杬嘉熹-<tspan class="r">丁世雄</tspan></text><text x="69" y="40.5">白中盘胜</text></g>
<g transform="translate(186,2532)"><rect x="1" y="1" width="136" height="43"/><text x="69" y="20">唐韦星-<tspan class="r">周睿羊</tspan></text><text x="69" y="40.5">白胜2又1/4子</text></g>
<g transform="translate(186,2636)"><rect x="1" y="1" width="136" height="43"/><text x="69" y="20">陈玉依-<tspan class="r">李轩豪</tspan></text><text x="69" y="40.5">白中盘胜</text></g>
<g transform="translate(374,2376)"><rect x="1" y="1" width="120" height="43"/><text x="61" y="20"><tspan class="r">黄云嵩</tspan>-丁世雄</text><text x="61" y="40.5">黑中盘胜</text></g>
<g transform="translate(374,2584)"><rect x="1" y="1" width="120" height="43"/><text x="61" y="20"><tspan class="r">周睿羊</tspan>-李轩豪</text><text x="61" y="40.5">黑中盘胜</text></g>
<g transform="translate(546,2480)"><rect x="1" y="1" width="120" height="43"/><text x="61" y="20">周睿羊-<tspan class="r">黄云嵩</tspan></text><text x="61" y="40.5">白胜1/4子</text></g>
<g transform="translate(546,2714)"><rect x="1" y="1" width="120" height="43"/><text x="61" y="20"><tspan class="r">张涛</tspan>-NT</text></g>
<g transform="translate(718,2506)"><rect x="1" y="1" width="120" height="43"/><text x="61" y="20"><tspan class="r">黄云嵩</tspan>-张涛</text><text x="61" y="40.5">黑胜2又3/4子</text></g>
<g transform="translate(718,2766)"><rect x="1" y="1" width="120" height="43"/><text x="61" y="20"><tspan class="r">许嘉阳</tspan>-NT</text></g>
<g transform="translate(890,2532)"><rect x="1" y="1" width="120" height="43"/><text x="61" y="20"><tspan class="r">黄云嵩</tspan>-许嘉阳</text><text x="61" y="40.5">黑胜3/4子</text></g>
<g transform="translate(890,2246.5)"><rect x="1" y="1" width="120" height="43"/><text x="61" y="20"><tspan class="r">芈昱廷</tspan>-NT</text></g>
<g transform="translate(1062,2506)"><rect x="1" y="1" width="120" height="43"/><text x="61" y="20"><tspan class="r">芈昱廷</tspan>-黄云嵩</text><text x="61" y="40.5">黑中盘胜</text></g>
<g transform="translate(1062,2819)"><rect x="1" y="1" width="120" height="43"/><text x="61" y="20"><tspan class="r">江维杰</tspan>-NT</text></g>
<g transform="translate(1233,2532)"><rect x="1" y="1" width="120" height="43"/><text x="61" y="20">江维杰-<tspan class="r">芈昱廷</tspan></text><text x="61" y="40.5">白中盘胜</text></g>
<g transform="translate(1233,2870.5)"><rect x="1" y="1" width="120" height="43"/><text x="61" y="20"><tspan class="r">柯洁</tspan>-NT</text></g>
<g transform="translate(1405,2558)"><rect x="1" y="1" width="120" height="43"/><text x="61" y="20"><tspan class="r">芈昱廷</tspan>-柯洁</text><text x="61" y="40.5">黑中盘胜</text></g>
<g transform="translate(1577,2584)"><rect x="1" y="1" width="120" height="43"/><text x="61" y="20"><tspan class="r">芈昱廷</tspan>-廖元赫</text><text x="61" y="40.5">黑中盘胜</text></g>
</g>
</svg>
</body></html>
